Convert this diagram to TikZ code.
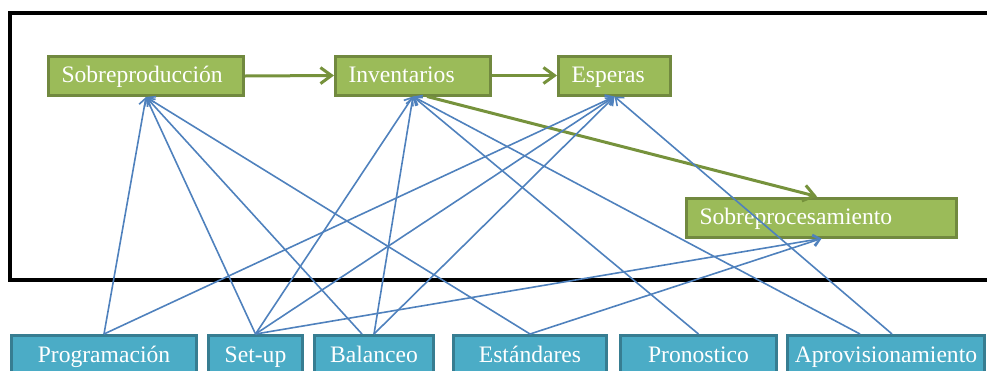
\documentclass[tikz,border=0pt]{standalone}
\usepackage{fontspec}
\setmainfont{Liberation Serif}
\usetikzlibrary{arrows.meta,calc}
\definecolor{gfill}{RGB}{155,187,89}
\definecolor{gborder}{RGB}{113,137,63}
\definecolor{garrow}{RGB}{118,146,60}
\definecolor{bfill}{RGB}{75,172,198}
\definecolor{bborder}{RGB}{55,125,145}
\definecolor{bline}{RGB}{79,129,189}
\tikzset{
  gbox/.style={draw=gborder, fill=gfill, line width=3pt, text=white, inner xsep=13pt, inner ysep=0pt,
    minimum height=39pt, text height=16pt, text depth=3pt, align=left, font=\fontsize{23.6}{26}\selectfont},
  bbox/.style={draw=bborder, fill=bfill, line width=3pt, text=white, inner xsep=2pt, inner ysep=0pt,
    minimum height=40pt, text height=16pt, text depth=2pt, align=center, font=\fontsize{23.6}{26}\selectfont},
  barrow/.style={draw=bline, line width=1.6pt, -{Straight Barb[length=7pt,width=11pt,line width=1.6pt]}},
  garrowst/.style={draw=garrow, line width=3pt, -{Straight Barb[length=11pt,width=16pt,line width=3pt]}},
}
\begin{document}
\begin{tikzpicture}[x=1pt,y=-1pt]
\useasboundingbox (0,0) rectangle (987,370);
% frame
\draw[line width=3.2pt, black] (990,13) -- (10,13) -- (10,280) -- (990,280);
% green boxes
\node[gbox, text width=169pt] (sp) at (146,76) {Sobreproducción};
\node[gbox, text width=129pt] (inv) at (413,75.5) {Inventarios};
\node[gbox, text width=86pt] (esp) at (614.5,75.5) {Esperas};
\node[gbox, text width=244pt] (spr) at (821.5,217.5) {Sobreprocesamiento};
% blue boxes
\node[bbox, minimum width=185pt] (prog) at (104,355.5) {Programación};
\node[bbox, minimum width=94pt] (set) at (255.5,355.5) {Set-up};
\node[bbox, minimum width=119pt] (bal) at (374,355.5) {Balanceo};
\node[bbox, minimum width=153pt] (est) at (530,355.5) {Estándares};
\node[bbox, minimum width=156pt] (pro) at (698.5,355.5) {Pronostico};
\node[bbox, minimum width=197pt] (apr) at (886,355.5) {Aprovisionamiento};
% green arrows
\draw[garrowst] (sp.east) -- (inv.west);
\draw[garrowst] (inv.east) -- (esp.west);
\draw[garrowst] ($(inv.south)+(14,0)$) -- ($(spr.north)+(-4.5,0)$);
% blue connectors
\draw[barrow] (prog.north) -- (sp.south);
\draw[barrow] (prog.north) -- (esp.south);
\draw[barrow] (set.north) -- (sp.south);
\draw[barrow] (set.north) -- (inv.south);
\draw[barrow] (set.north) -- (esp.south);
\draw[barrow] (set.north) -- (spr.south);
\draw[barrow] ($(bal.north)+(-12,0)$) -- (sp.south);
\draw[barrow] (bal.north) -- (inv.south);
\draw[barrow] (bal.north) -- (esp.south);
\draw[barrow] (est.north) -- (sp.south);
\draw[barrow] (est.north) -- (spr.south);
\draw[barrow] (pro.north) -- (inv.south);
\draw[barrow] ($(apr.north)+(-26,0)$) -- (inv.south);
\draw[barrow] ($(apr.north)+(6,0)$) -- (esp.south);
\end{tikzpicture}
\end{document}
